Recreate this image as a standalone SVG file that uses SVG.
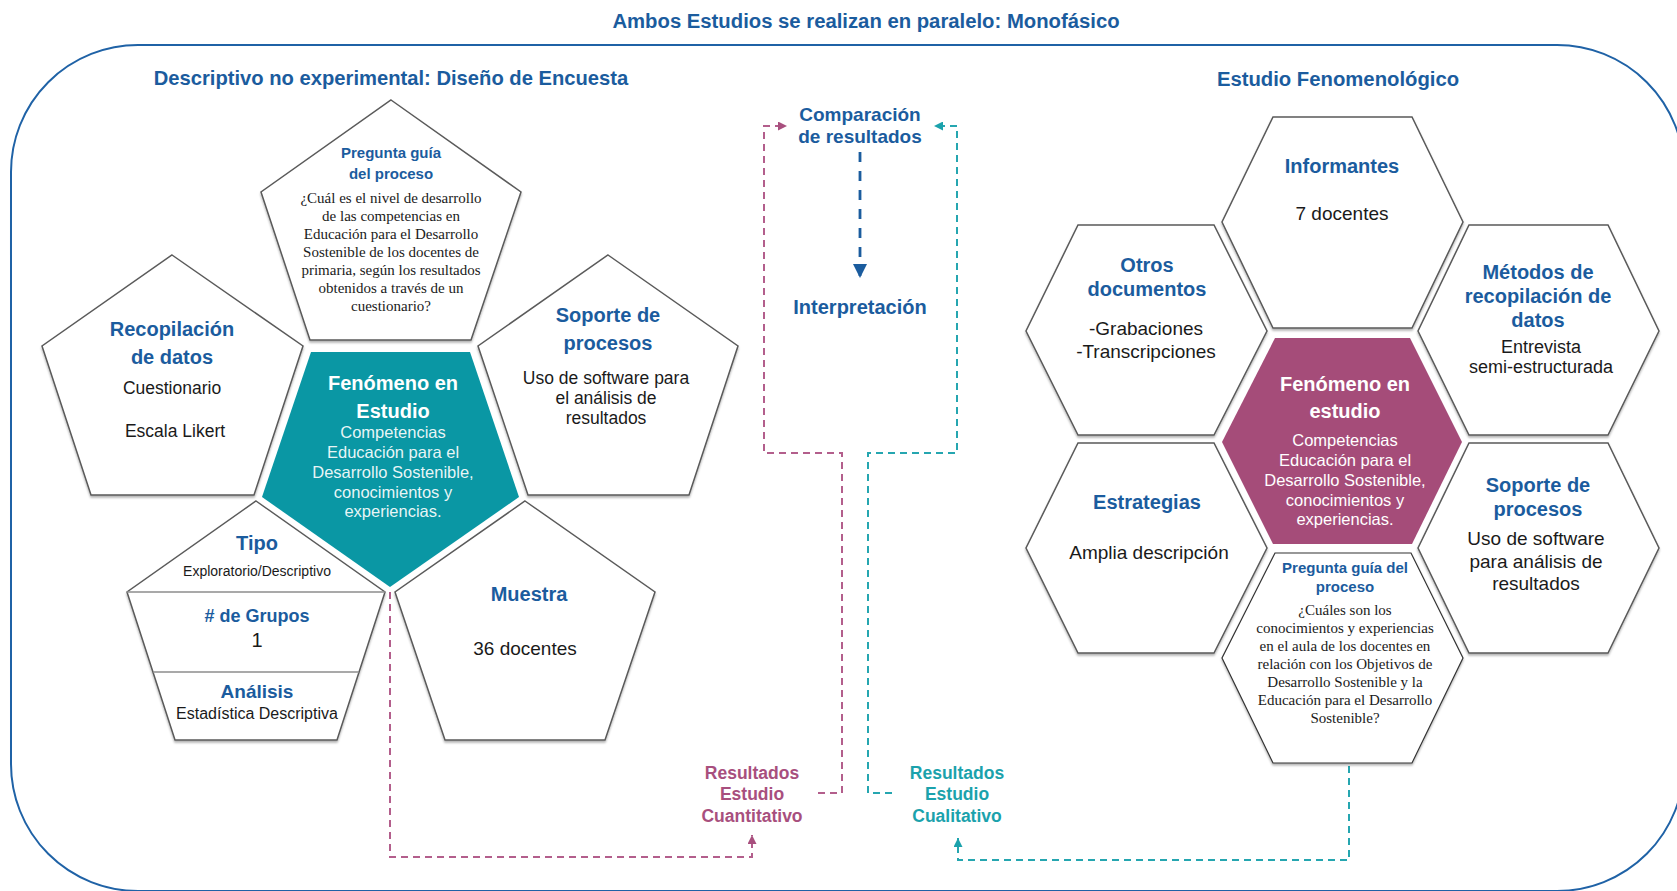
<svg xmlns="http://www.w3.org/2000/svg" width="1677" height="891" viewBox="0 0 1677 891">
  <defs>
    <style>
      .h { font-family: "Liberation Sans", Arial, sans-serif; font-weight: bold; fill: #1b5c9e; text-anchor: middle; }
      .t { font-family: "Liberation Sans", Arial, sans-serif; fill: #1a1a1a; text-anchor: middle; }
      .s { font-family: "Liberation Serif", "Times New Roman", serif; fill: #1a1a1a; text-anchor: middle; font-size: 15px; }
      .w { font-family: "Liberation Sans", Arial, sans-serif; fill: #ffffff; text-anchor: middle; }
      .shape { fill: #ffffff; stroke: #5a5a5a; stroke-width: 1.5; filter: url(#shadow); }
      .div { stroke: #8c8c8c; stroke-width: 1.5; }
      .dm { fill: none; stroke: #b35e8c; stroke-width: 2; stroke-dasharray: 7 5; }
      .dt { fill: none; stroke: #25a6b0; stroke-width: 2; stroke-dasharray: 7 5; }
      .db { fill: none; stroke: #1b5c9e; stroke-width: 2.8; stroke-dasharray: 10 9; }
      .lm { font-family: "Liberation Sans", Arial, sans-serif; font-weight: bold; fill: #a84f7e; text-anchor: middle; font-size: 17.5px; }
      .lt { font-family: "Liberation Sans", Arial, sans-serif; font-weight: bold; fill: #1ba2ac; text-anchor: middle; font-size: 17.5px; }
    </style>
    <filter id="shadow" x="-10%" y="-10%" width="120%" height="125%">
      <feDropShadow dx="0" dy="2" stdDeviation="1.2" flood-color="#000000" flood-opacity="0.3"/>
    </filter>
    <marker id="am" viewBox="0 0 10 10" refX="10" refY="5" markerWidth="11" markerHeight="9" markerUnits="userSpaceOnUse" orient="auto">
      <path d="M0,0 L10,5 L0,10 z" fill="#a84f7e"/>
    </marker>
    <marker id="at" viewBox="0 0 10 10" refX="10" refY="5" markerWidth="11" markerHeight="9" markerUnits="userSpaceOnUse" orient="auto">
      <path d="M0,0 L10,5 L0,10 z" fill="#1ba2ac"/>
    </marker>
    <marker id="ab" viewBox="0 0 10 10" refX="10" refY="5" markerWidth="17" markerHeight="14" markerUnits="userSpaceOnUse" orient="auto">
      <path d="M0,0 L10,5 L0,10 z" fill="#1b5c9e"/>
    </marker>
  </defs>

  <rect width="1677" height="891" fill="#ffffff"/>

  <!-- outer frame -->
  <rect x="11" y="45" width="1673" height="846" rx="127" ry="127" fill="none" stroke="#1f62a6" stroke-width="2"/>

  <text class="h" x="866" y="28" font-size="20.3">Ambos Estudios se realizan en paralelo: Monofásico</text>
  <text class="h" x="391" y="85" font-size="20.2">Descriptivo no experimental: Diseño de Encuesta</text>
  <text class="h" x="1338" y="86" font-size="20.3">Estudio Fenomenológico</text>

  <!-- connectors -->
  <g id="connectors">
    <path class="dm" d="M390,592 V857 H752 V835" marker-end="url(#am)"/>
    <path class="dm" d="M818,793 H842 V453 H764 V126 H787" marker-end="url(#am)"/>
    <path class="dt" d="M1349,766 V860 H958 V838" marker-end="url(#at)"/>
    <path class="dt" d="M892,793 H868 V453 H957 V126 H934" marker-end="url(#at)"/>
    <path class="db" d="M860,152 V278" marker-end="url(#ab)"/>
  </g>

  <!-- quantitative study: pentagons -->
  <g id="q-pregunta">
    <polygon class="shape" points="391,100 521,192 471,340 310,340 261,192"/>
    <text class="h" x="391" y="158" font-size="15">Pregunta guía</text>
    <text class="h" x="391" y="179" font-size="15">del proceso</text>
    <text class="s" x="391" y="203">¿Cuál es el nivel de desarrollo</text>
    <text class="s" x="391" y="221">de las competencias en</text>
    <text class="s" x="391" y="239">Educación para el Desarrollo</text>
    <text class="s" x="391" y="257">Sostenible de los docentes de</text>
    <text class="s" x="391" y="275">primaria, según los resultados</text>
    <text class="s" x="391" y="293">obtenidos a través de un</text>
    <text class="s" x="391" y="311">cuestionario?</text>
  </g>

  <g id="q-recopilacion">
    <polygon class="shape" points="172,255 303,346 254,495 91,495 42,346"/>
    <text class="h" x="172" y="336" font-size="20">Recopilación</text>
    <text class="h" x="172" y="364" font-size="20">de datos</text>
    <text class="t" x="172" y="394" font-size="17.5">Cuestionario</text>
    <text class="t" x="175" y="437" font-size="17.5">Escala Likert</text>
  </g>

  <g id="q-soporte">
    <polygon class="shape" points="608,255 738,346 689,495 528,495 478,346"/>
    <text class="h" x="608" y="322" font-size="20">Soporte de</text>
    <text class="h" x="608" y="350" font-size="20">procesos</text>
    <text class="t" x="606" y="384" font-size="17.5">Uso de software para</text>
    <text class="t" x="606" y="404" font-size="17.5">el análisis de</text>
    <text class="t" x="606" y="424" font-size="17.5">resultados</text>
  </g>

  <g id="q-fenomeno">
    <polygon points="311,352 470,352 519,497 390,587 262,497" fill="#0a97a4"/>
    <text class="w" x="393" y="390" font-size="20" font-weight="bold">Fenómeno en</text>
    <text class="w" x="393" y="418" font-size="20" font-weight="bold">Estudio</text>
    <text class="w" x="393" y="438" font-size="16.5" fill-opacity="0.92">Competencias</text>
    <text class="w" x="393" y="458" font-size="16.5" fill-opacity="0.92">Educación para el</text>
    <text class="w" x="393" y="478" font-size="16.5" fill-opacity="0.92">Desarrollo Sostenible,</text>
    <text class="w" x="393" y="498" font-size="16.5" fill-opacity="0.92">conocimientos y</text>
    <text class="w" x="393" y="517" font-size="16.5" fill-opacity="0.92">experiencias.</text>
  </g>

  <g id="q-tipo">
    <polygon class="shape" points="256,501 385,592 337,740 175,740 127,592"/>
    <line class="div" x1="127" y1="592" x2="385" y2="592"/>
    <line class="div" x1="153" y1="672" x2="359" y2="672"/>
    <text class="h" x="257" y="550" font-size="20">Tipo</text>
    <text class="t" x="257" y="576" font-size="14">Exploratorio/Descriptivo</text>
    <text class="h" x="257" y="622" font-size="18">#  de Grupos</text>
    <text class="t" x="257" y="647" font-size="20">1</text>
    <text class="h" x="257" y="698" font-size="19">Análisis</text>
    <text class="t" x="257" y="719" font-size="16">Estadística Descriptiva</text>
  </g>

  <g id="q-muestra">
    <polygon class="shape" points="525,501 655,592 605,740 445,740 395,592"/>
    <text class="h" x="529" y="601" font-size="20">Muestra</text>
    <text class="t" x="525" y="655" font-size="19">36 docentes</text>
  </g>

  <!-- integration column -->
  <g id="comparacion">
    <text class="h" x="860" y="121" font-size="19">Comparación</text>
    <text class="h" x="860" y="143" font-size="19">de resultados</text>
  </g>
  <g id="interpretacion">
    <text class="h" x="860" y="314" font-size="20">Interpretación</text>
  </g>
  <g id="res-cuantitativo">
    <text class="lm" x="752" y="779">Resultados</text>
    <text class="lm" x="752" y="800">Estudio</text>
    <text class="lm" x="752" y="822">Cuantitativo</text>
  </g>
  <g id="res-cualitativo">
    <text class="lt" x="957" y="779">Resultados</text>
    <text class="lt" x="957" y="800">Estudio</text>
    <text class="lt" x="957" y="822">Cualitativo</text>
  </g>

  <!-- qualitative study: hexagons -->
  <g id="f-informantes">
    <polygon class="shape" points="1273,117 1412,117 1463,222 1412,328 1273,328 1222,222"/>
    <text class="h" x="1342" y="173" font-size="20">Informantes</text>
    <text class="t" x="1342" y="220" font-size="19">7 docentes</text>
  </g>

  <g id="f-otros">
    <polygon class="shape" points="1078,225 1214,225 1267,331 1214,435 1078,435 1026,331"/>
    <text class="h" x="1147" y="272" font-size="20">Otros</text>
    <text class="h" x="1147" y="296" font-size="20">documentos</text>
    <text class="t" x="1146" y="335" font-size="19">-Grabaciones</text>
    <text class="t" x="1146" y="358" font-size="19">-Transcripciones</text>
  </g>

  <g id="f-metodos">
    <polygon class="shape" points="1469,225 1608,225 1659,331 1608,435 1469,435 1418,331"/>
    <text class="h" x="1538" y="279" font-size="20">Métodos de</text>
    <text class="h" x="1538" y="303" font-size="20">recopilación de</text>
    <text class="h" x="1538" y="327" font-size="20">datos</text>
    <text class="t" x="1541" y="353" font-size="18">Entrevista</text>
    <text class="t" x="1541" y="373" font-size="18">semi-estructurada</text>
  </g>

  <g id="f-fenomeno">
    <polygon points="1275,338 1410,338 1462,442 1412,544 1273,544 1222,442" fill="#a54c79"/>
    <text class="w" x="1345" y="391" font-size="20" font-weight="bold">Fenómeno en</text>
    <text class="w" x="1345" y="418" font-size="20" font-weight="bold">estudio</text>
    <text class="w" x="1345" y="446" font-size="16.5" fill="#f3dde8">Competencias</text>
    <text class="w" x="1345" y="466" font-size="16.5" fill="#f3dde8">Educación para el</text>
    <text class="w" x="1345" y="486" font-size="16.5" fill="#f3dde8">Desarrollo Sostenible,</text>
    <text class="w" x="1345" y="506" font-size="16.5" fill="#f3dde8">conocimientos y</text>
    <text class="w" x="1345" y="525" font-size="16.5" fill="#f3dde8">experiencias.</text>
  </g>

  <g id="f-estrategias">
    <polygon class="shape" points="1078,443 1214,443 1267,548 1214,653 1078,653 1026,548"/>
    <text class="h" x="1147" y="509" font-size="20">Estrategias</text>
    <text class="t" x="1149" y="559" font-size="19">Amplia descripción</text>
  </g>

  <g id="f-soporte">
    <polygon class="shape" points="1469,443 1608,443 1659,548 1608,653 1469,653 1418,548"/>
    <text class="h" x="1538" y="492" font-size="20">Soporte de</text>
    <text class="h" x="1538" y="516" font-size="20">procesos</text>
    <text class="t" x="1536" y="545" font-size="19">Uso de software</text>
    <text class="t" x="1536" y="568" font-size="19">para análisis de</text>
    <text class="t" x="1536" y="590" font-size="19">resultados</text>
  </g>

  <g id="f-pregunta">
    <polygon class="shape" points="1275,553 1411,553 1463,658 1412,763 1273,763 1222,658" style="stroke:#333333;stroke-width:1.2"/>
    <text class="h" x="1345" y="573" font-size="15">Pregunta guía del</text>
    <text class="h" x="1345" y="592" font-size="15">proceso</text>
    <text class="s" x="1345" y="615">¿Cuáles son los</text>
    <text class="s" x="1345" y="633">conocimientos y experiencias</text>
    <text class="s" x="1345" y="651">en el aula de los docentes en</text>
    <text class="s" x="1345" y="669">relación con los Objetivos de</text>
    <text class="s" x="1345" y="687">Desarrollo Sostenible y la</text>
    <text class="s" x="1345" y="705">Educación para el Desarrollo</text>
    <text class="s" x="1345" y="723">Sostenible?</text>
  </g>
</svg>
